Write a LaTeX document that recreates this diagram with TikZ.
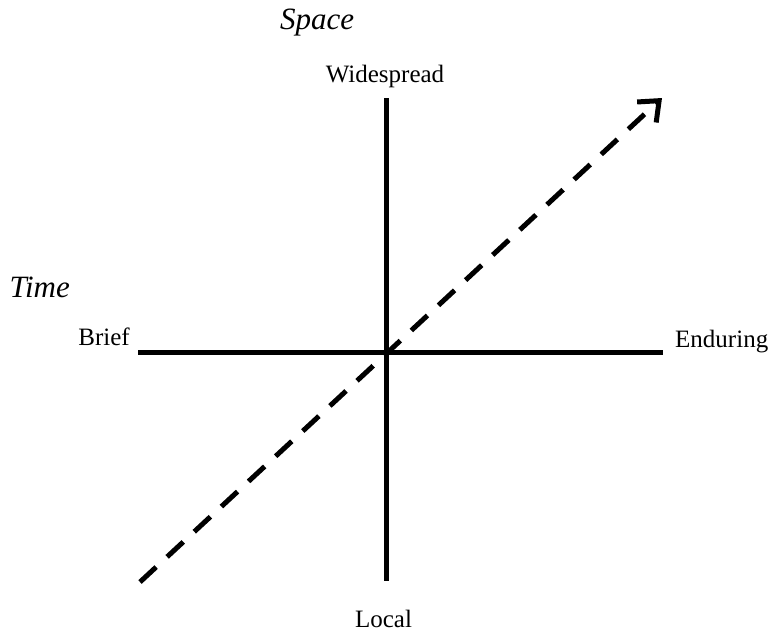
\documentclass[tikz,border=0pt]{standalone}
\usepackage{fontspec}
\setmainfont{Liberation Serif}
\usetikzlibrary{arrows.meta}
\begin{document}
\begin{tikzpicture}[x=1pt,y=-1pt,
  axisline/.style={line width=5pt},
  dashline/.style={line width=5pt, dash pattern=on 22pt off 15pt, -{Straight Barb[length=17pt,width=28pt]}},
  lbl/.style={inner sep=0pt, font=\fontsize{25}{30}\selectfont},
  title/.style={inner sep=0pt, font=\fontsize{31}{36}\selectfont\itshape}]
\useasboundingbox (0,0) rectangle (773,633);
\coordinate (top) at (386.5,98);
\coordinate (bot) at (386.5,581);
\coordinate (lft) at (138,352);
\coordinate (rgt) at (663,352);
\coordinate (ds) at (140,582);
\coordinate (de) at (662,98);
\draw[axisline] (lft) -- (rgt);
\draw[axisline] (top) -- (bot);
\draw[dashline] (ds) -- (de);
\node[lbl, anchor=base] (wide) at (385,82) {Widespread};
\node[lbl, anchor=base] (local) at (383.5,627) {Local};
\node[lbl, anchor=base east] (brief) at (130,345) {Brief};
\node[lbl, anchor=base west] (endu) at (675,347) {Enduring};
\node[title, anchor=base west] (space) at (280,29) {Space};
\node[title, anchor=base east] (time) at (70,297) {Time};
\end{tikzpicture}
\end{document}
